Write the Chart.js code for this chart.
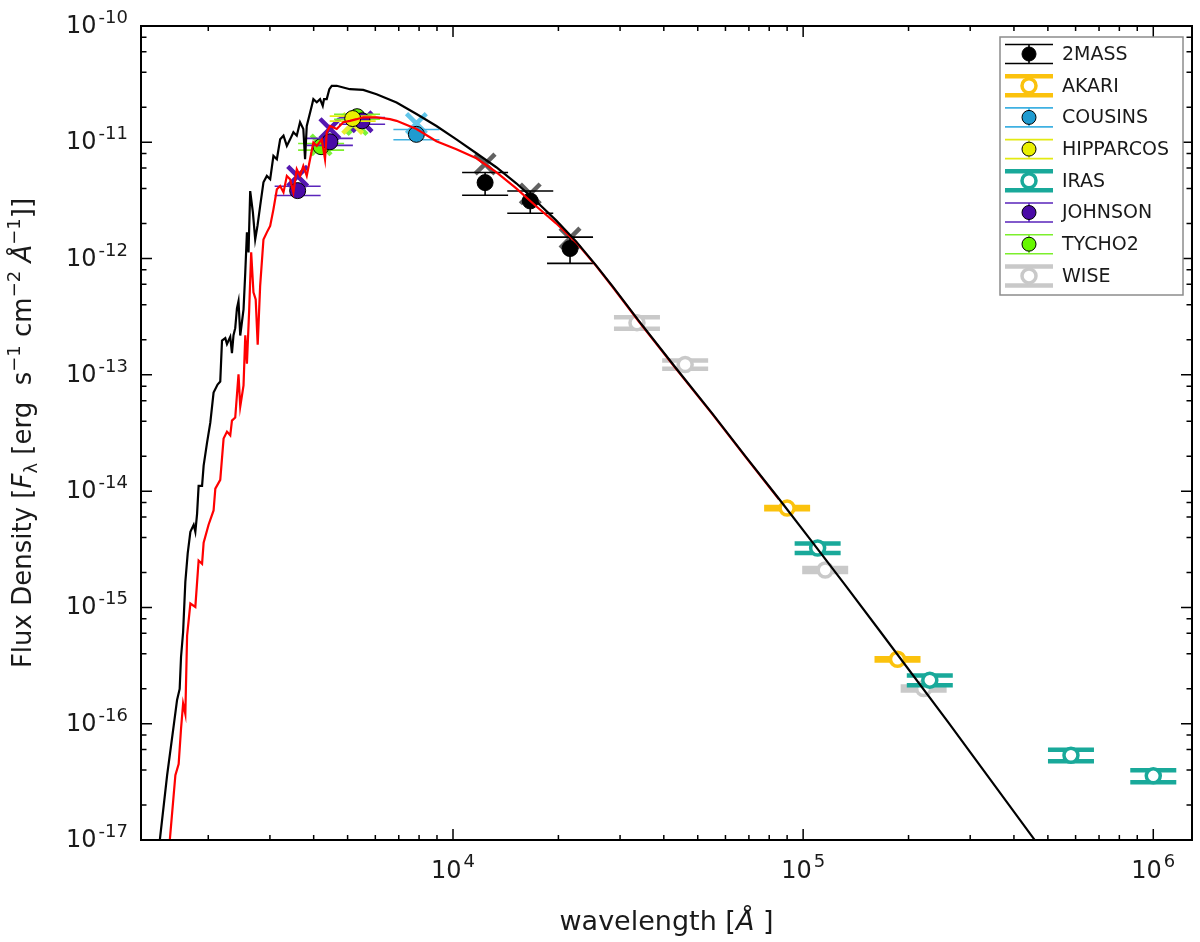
<!DOCTYPE html>
<html>
<head>
<meta charset="utf-8">
<title>Spectral energy distribution</title>
<script src="https://cdn.jsdelivr.net/npm/chart.js@4.4.1/dist/chart.umd.min.js"></script>
<style>
  html, body { margin: 0; padding: 0; background: #ffffff; }
  #wrap { width: 1200px; height: 942px; }
</style>
</head>
<body>
<div id="wrap"><canvas id="sed" width="1200" height="942"></canvas></div>
<script>
// Axis limits and ticks
const xMin = 1285, xMax = 1.29e6;
const yMin = 1e-17, yMax = 1e-10;
const xMajorTicks = [1e4, 1e5, 1e6];
const xTickExponents = ['4', '5', '6'];
const xMinorTicks = [2e3, 3e3, 4e3, 5e3, 6e3, 7e3, 8e3, 9e3,
                     2e4, 3e4, 4e4, 5e4, 6e4, 7e4, 8e4, 9e4,
                     2e5, 3e5, 4e5, 5e5, 6e5, 7e5, 8e5, 9e5];
const yMajorTicks = [1e-10, 1e-11, 1e-12, 1e-13, 1e-14, 1e-15, 1e-16, 1e-17];
const yTickExponents = ['-10', '-11', '-12', '-13', '-14', '-15', '-16', '-17'];
const yMinorTicks = [2e-11, 4e-11, 6e-11, 8e-11, 2e-12, 4e-12, 6e-12, 8e-12,
                     2e-13, 4e-13, 6e-13, 8e-13, 2e-14, 4e-14, 6e-14, 8e-14,
                     2e-15, 4e-15, 6e-15, 8e-15, 2e-16, 4e-16, 6e-16, 8e-16,
                     2e-17, 4e-17, 6e-17, 8e-17];

// Model spectrum (black)
const modelWave = [1453, 1526, 1594, 1629, 1657, 1672, 1695, 1720, 1747, 1778, 1817, 1837, 1858, 1877, 1920, 1940,
  1984, 2027, 2071, 2126, 2164, 2189, 2237, 2262, 2311, 2337, 2361, 2388, 2415, 2440, 2468, 2522, 2551, 2579,
  2606, 2635, 2682, 2723, 2764, 2813, 2875, 2940, 3005, 3070, 3140, 3209, 3280, 3353, 3426, 3501, 3579, 3657,
  3737, 3780, 3822, 3951, 3992, 4082, 4172, 4246, 4282, 4359, 4434, 4505, 4655, 4860, 5078, 5541, 6050, 6899,
  7866, 8968, 10225, 11660, 13290, 15160, 17280, 19700, 22470, 25620, 28570, 34030, 43300, 55050, 68540,
  85270, 106100, 132060, 164360, 260100, 459300];
const modelFlux = [9.75e-18, 3.61e-17, 9.72e-17, 1.60e-16, 1.99e-16, 3.75e-16, 6.15e-16, 1.66e-15, 2.91e-15,
  4.47e-15, 5.14e-15, 4.47e-15, 6.38e-15, 1.11e-14, 1.11e-14, 1.66e-14, 2.61e-14, 3.88e-14, 7.05e-14, 8.25e-14,
  8.75e-14, 1.97e-13, 2.07e-13, 1.84e-13, 2.12e-13, 1.54e-13, 2.19e-13, 2.52e-13, 3.72e-13, 4.30e-13, 2.18e-13,
  3.65e-13, 7.60e-13, 1.68e-12, 1.13e-12, 3.81e-12, 2.50e-12, 1.46e-12, 1.91e-12, 2.83e-12, 4.53e-12, 5.14e-12,
  4.81e-12, 7.64e-12, 7.15e-12, 1.06e-11, 1.14e-11, 9.31e-12, 1.06e-11, 1.22e-11, 1.14e-11, 1.49e-11, 1.30e-11,
  7.15e-12, 1.38e-11, 2.06e-11, 2.35e-11, 2.21e-11, 2.35e-11, 2.06e-11, 2.35e-11, 2.35e-11, 2.86e-11, 3.06e-11,
  3.06e-11, 2.96e-11, 2.86e-11, 2.82e-11, 2.59e-11, 2.20e-11, 1.75e-11, 1.38e-11, 1.06e-11, 8.05e-12, 6.10e-12,
  4.44e-12, 3.11e-12, 2.13e-12, 1.406e-12, 8.74e-13, 5.76e-13, 2.88e-13, 1.145e-13, 4.64e-14, 1.98e-14, 8.60e-15,
  3.66e-15, 1.547e-15, 6.46e-16, 1.022e-16, 9.94e-18];

// Reddened model spectrum (red)
const reddenedWave = [1552, 1611, 1646, 1672, 1695, 1720, 1740, 1778, 1837, 1877, 1920, 1940, 2004, 2071, 2095,
  2164, 2212, 2262, 2311, 2337, 2388, 2440, 2468, 2522, 2551, 2579, 2617, 2652, 2692, 2732, 2768, 2813, 2875,
  2940, 3005, 3070, 3140, 3209, 3280, 3353, 3426, 3501, 3579, 3657, 3737, 3822, 3906, 3992, 4082, 4219, 4310,
  4359, 4455, 4655, 4860, 5078, 5306, 5541, 6050, 6603, 6899, 7866, 8968, 10225, 11660, 13290, 15160, 17280,
  19700, 22470, 25620, 28570, 34030, 43300, 55050, 68540, 85270];
const reddenedFlux = [9.75e-18, 3.61e-17, 4.49e-17, 9.06e-17, 1.49e-16, 1.21e-16, 5.71e-16, 1.08e-15, 1.01e-15,
  2.53e-15, 2.37e-15, 3.60e-15, 5.14e-15, 6.82e-15, 1.05e-14, 1.25e-14, 2.83e-14, 3.25e-14, 3.02e-14, 4.04e-14,
  4.29e-14, 1.01e-13, 5.33e-14, 8.13e-14, 2.19e-13, 1.25e-13, 3.58e-13, 1.13e-12, 5.12e-13, 4.46e-13, 1.82e-13,
  5.79e-13, 1.46e-12, 1.68e-12, 1.91e-12, 2.65e-12, 3.94e-12, 4.21e-12, 3.71e-12, 5.14e-12, 4.81e-12, 3.71e-12,
  5.87e-12, 5.14e-12, 6.26e-12, 5.14e-12, 7.15e-12, 9.96e-12, 9.31e-12, 1.06e-11, 7.15e-12, 1.22e-11, 1.38e-11,
  1.30e-11, 1.49e-11, 1.53e-11, 1.58e-11, 1.64e-11, 1.64e-11, 1.58e-11, 1.53e-11, 1.30e-11, 1.02e-11, 8.72e-12,
  7.29e-12, 5.53e-12, 4.02e-12, 2.82e-12, 2.01e-12, 1.378e-12, 8.65e-13, 5.70e-13, 2.85e-13, 1.13e-13, 4.60e-14,
  1.96e-14, 8.52e-15];

// Photometry: wavelength [A], flux, error, synthetic model flux
const twomassWave = [12350, 16620, 21590];
const twomassFlux = [4.5e-12, 3.13e-12, 1.22e-12];
const twomassErr = [1.0e-12, 0.68e-12, 0.31e-12];
const twomassSynth = [6.5e-12, 3.6e-12, 1.5e-12];

const akariWave = [90000, 186000];
const akariFlux = [7.15e-15, 3.58e-16];
const akariErr = [0.15e-15, 0.08e-16];

const cousinsWave = [7860];
const cousinsFlux = [1.17e-11];
const cousinsErr = [0.12e-11];
const cousinsSynth = [1.45e-11];

const hipparcosWave = [5170];
const hipparcosFlux = [1.6e-11];
const hipparcosErr = [0.08e-11];
const hipparcosSynth = [1.45e-11];

const irasWave = [110000, 230000, 582000, 1000000];
const irasFlux = [3.24e-15, 2.37e-16, 5.36e-17, 3.56e-17];
const irasErr = [0.3e-15, 0.23e-16, 0.6e-17, 0.42e-17];

const johnsonWave = [3600, 4450, 5500];
const johnsonFlux = [3.84e-12, 1.01e-11, 1.53e-11];
const johnsonErr = [0.35e-12, 0.07e-11, 0.1e-11];
const johnsonSynth = [5.1e-12, 1.31e-11, 1.5e-11];

const tychoWave = [4200, 5320];
const tychoFlux = [9.17e-12, 1.66e-11];
const tychoErr = [0.6e-12, 0.08e-11];
const tychoSynth = [9.5e-12, 1.42e-11];

const wiseWave = [33526, 46028, 115608, 220883];
const wiseFlux = [2.81e-13, 1.227e-13, 2.10e-15, 2.01e-16];
const wiseErr = [0.32e-13, 0.1e-13, 0.08e-15, 0.08e-16];

// Survey styles (legend order)
const surveys = [
  { name: '2MASS', wave: twomassWave, flux: twomassFlux, err: twomassErr, synth: twomassSynth,
    color: '#000000', bar: '#000000', open: false, thick: false, cross: 'rgba(70,70,70,0.85)' },
  { name: 'AKARI', wave: akariWave, flux: akariFlux, err: akariErr, synth: null,
    color: '#fbc20d', bar: '#fbc20d', open: true, thick: true },
  { name: 'COUSINS', wave: cousinsWave, flux: cousinsFlux, err: cousinsErr, synth: cousinsSynth,
    color: '#1f9bd0', bar: '#3fb1e2', open: false, thick: false, cross: '#62c6ea' },
  { name: 'HIPPARCOS', wave: hipparcosWave, flux: hipparcosFlux, err: hipparcosErr, synth: hipparcosSynth,
    color: '#e9ef00', bar: '#e3ea12', open: false, thick: false, cross: '#e8ee30' },
  { name: 'IRAS', wave: irasWave, flux: irasFlux, err: irasErr, synth: null,
    color: '#19a99a', bar: '#19a99a', open: true, thick: true },
  { name: 'JOHNSON', wave: johnsonWave, flux: johnsonFlux, err: johnsonErr, synth: johnsonSynth,
    color: '#4a0ba6', bar: '#5a24bb', open: false, thick: false, cross: '#5518b0' },
  { name: 'TYCHO2', wave: tychoWave, flux: tychoFlux, err: tychoErr, synth: tychoSynth,
    color: '#66f700', bar: '#7cef2c', open: false, thick: false, cross: '#7cf23a' },
  { name: 'WISE', wave: wiseWave, flux: wiseFlux, err: wiseErr, synth: null,
    color: '#c9c9c9', bar: '#c9c9c9', open: true, thick: true }
];

const FONT = '"DejaVu Sans", "Liberation Sans", sans-serif';
const CAP = 23;

function toPoints(xs, ys) {
  return xs.map((x, i) => ({ x: x, y: ys[i] }));
}

// Build datasets
const datasets = [];
datasets.push({
  label: 'model', data: toPoints(modelWave, modelFlux), showLine: true,
  borderColor: '#000000', borderWidth: 2.2, pointRadius: 0, order: 0
});
datasets.push({
  label: 'reddened', data: toPoints(reddenedWave, reddenedFlux), showLine: true,
  borderColor: '#ff0000', borderWidth: 2.2, pointRadius: 0, order: 1
});
surveys.forEach(s => {
  datasets.push({
    label: s.name, data: toPoints(s.wave, s.flux), showLine: false,
    errors: s.err, barColor: s.bar, barWidth: s.thick ? 4.5 : 1.6,
    pointStyle: 'circle',
    pointRadius: s.open ? 7 : 8,
    pointBackgroundColor: s.open ? '#ffffff' : s.color,
    pointBorderColor: s.open ? s.color : '#000000',
    pointBorderWidth: s.open ? 3.5 : 1,
    order: 2
  });
  if (s.synth) {
    datasets.push({
      label: s.name + ' synthetic', data: toPoints(s.wave, s.synth), showLine: false,
      pointStyle: 'crossRot', pointRadius: 14, pointBorderWidth: 4.5,
      pointBorderColor: s.cross, pointBackgroundColor: s.cross, order: 3
    });
  }
});

function drawPower(ctx, exp, x, y, align, bigSize, smallSize, expRaise) {
  ctx.font = bigSize + 'px ' + FONT;
  const wBase = ctx.measureText('10').width;
  ctx.font = smallSize + 'px ' + FONT;
  const wExp = ctx.measureText(exp).width;
  const gap = 2;
  let left;
  if (align === 'right') left = x - wBase - gap - wExp;
  else left = x - (wBase + gap + wExp) / 2;
  ctx.textAlign = 'left';
  ctx.textBaseline = 'alphabetic';
  ctx.font = bigSize + 'px ' + FONT;
  ctx.fillText('10', left, y);
  ctx.font = smallSize + 'px ' + FONT;
  ctx.fillText(exp, left + wBase + gap, y - expRaise);
}

// Pieces of the y-axis title: [text, style] where style is n (normal), i (italic), sub, sup
const yTitleParts = [
  ['Flux Density [', 'n'], ['F', 'i'], ['\u03bb', 'sub'], [' [erg  s', 'n'], ['\u22121', 'sup'],
  [' cm', 'n'], ['\u22122', 'sup'], [' ', 'n'], ['\u00c5', 'i'], ['\u22121', 'sup'], [']]', 'n']
];
const xTitleParts = [['wavelength [', 'n'], ['\u00c5', 'i'], [' ]', 'n']];

function partFont(style, size) {
  if (style === 'i') return 'italic ' + size + 'px ' + FONT;
  if (style === 'sub' || style === 'sup') return Math.round(size * 0.7) + 'px ' + FONT;
  return size + 'px ' + FONT;
}

function drawParts(ctx, parts, cx, baseY, size) {
  let total = 0;
  parts.forEach(p => { ctx.font = partFont(p[1], size); total += ctx.measureText(p[0]).width; });
  let x = cx - total / 2;
  ctx.textAlign = 'left';
  ctx.textBaseline = 'alphabetic';
  parts.forEach(p => {
    ctx.font = partFont(p[1], size);
    let dy = 0;
    if (p[1] === 'sub') dy = size * 0.22;
    if (p[1] === 'sup') dy = -size * 0.42;
    ctx.fillText(p[0], x, baseY + dy);
    x += ctx.measureText(p[0]).width;
  });
}

function drawErrorGlyph(ctx, s, cx, cy, capHalf, halfH, radius) {
  ctx.save();
  ctx.strokeStyle = s.bar;
  ctx.lineWidth = s.thick ? 4.5 : 1.6;
  ctx.beginPath();
  ctx.moveTo(cx, cy - halfH); ctx.lineTo(cx, cy + halfH);
  ctx.moveTo(cx - capHalf, cy - halfH); ctx.lineTo(cx + capHalf, cy - halfH);
  ctx.moveTo(cx - capHalf, cy + halfH); ctx.lineTo(cx + capHalf, cy + halfH);
  ctx.stroke();
  ctx.beginPath();
  ctx.arc(cx, cy, radius, 0, Math.PI * 2);
  ctx.fillStyle = s.open ? '#ffffff' : s.color;
  ctx.fill();
  ctx.lineWidth = s.open ? 3.5 : 1;
  ctx.strokeStyle = s.open ? s.color : '#000000';
  ctx.stroke();
  ctx.restore();
}

const sedDecor = {
  id: 'sedDecor',
  beforeDatasetDraw(chart, args) {
    const ds = chart.data.datasets[args.index];
    if (!ds.errors) return;
    const ctx = chart.ctx, a = chart.chartArea;
    const xs = chart.scales.x, ys = chart.scales.y;
    ctx.save();
    ctx.beginPath();
    ctx.rect(a.left, a.top, a.right - a.left, a.bottom - a.top);
    ctx.clip();
    ctx.strokeStyle = ds.barColor;
    ctx.lineWidth = ds.barWidth;
    ds.data.forEach((p, i) => {
      const e = ds.errors[i];
      const px = xs.getPixelForValue(p.x);
      const top = ys.getPixelForValue(p.y + e);
      const bot = ys.getPixelForValue(p.y - e);
      ctx.beginPath();
      ctx.moveTo(px, top); ctx.lineTo(px, bot);
      ctx.moveTo(px - CAP, top); ctx.lineTo(px + CAP, top);
      ctx.moveTo(px - CAP, bot); ctx.lineTo(px + CAP, bot);
      ctx.stroke();
    });
    ctx.restore();
  },
  afterDraw(chart) {
    const ctx = chart.ctx, a = chart.chartArea;
    const xs = chart.scales.x, ys = chart.scales.y;
    ctx.save();
    ctx.fillStyle = '#000000';
    ctx.strokeStyle = '#000000';

    // Inward ticks on all four sides
    ctx.lineWidth = 1.5;
    ctx.beginPath();
    const xTick = (v, len) => {
      const px = xs.getPixelForValue(v);
      ctx.moveTo(px, a.bottom); ctx.lineTo(px, a.bottom - len);
      ctx.moveTo(px, a.top); ctx.lineTo(px, a.top + len);
    };
    const yTick = (v, len) => {
      const py = ys.getPixelForValue(v);
      ctx.moveTo(a.left, py); ctx.lineTo(a.left + len, py);
      ctx.moveTo(a.right, py); ctx.lineTo(a.right - len, py);
    };
    xMajorTicks.forEach(v => xTick(v, 11));
    xMinorTicks.forEach(v => xTick(v, 5));
    yMajorTicks.forEach(v => yTick(v, 11));
    yMinorTicks.forEach(v => yTick(v, 5.5));
    ctx.stroke();

    // Frame
    ctx.lineWidth = 2;
    ctx.strokeRect(a.left, a.top, a.right - a.left, a.bottom - a.top);

    // Tick labels
    ctx.fillStyle = '#1a1a1a';
    xMajorTicks.forEach((v, i) => {
      drawPower(ctx, xTickExponents[i], xs.getPixelForValue(v), 878, 'center', 24, 18, 11);
    });
    yMajorTicks.forEach((v, i) => {
      drawPower(ctx, yTickExponents[i], 128, ys.getPixelForValue(v) + 7, 'right', 24, 18, 10);
    });

    // Axis titles
    drawParts(ctx, xTitleParts, (a.left + a.right) / 2, 930, 27);
    ctx.save();
    ctx.translate(31, (a.top + a.bottom) / 2);
    ctx.rotate(-Math.PI / 2);
    drawParts(ctx, yTitleParts, 0, 0, 26);
    ctx.restore();

    // Legend
    const lx = 1000, ly = 37, lw = 183, lh = 258;
    ctx.fillStyle = '#ffffff';
    ctx.fillRect(lx, ly, lw, lh);
    ctx.lineWidth = 1.5;
    ctx.strokeStyle = '#8c8c8c';
    ctx.strokeRect(lx, ly, lw, lh);
    surveys.forEach((s, i) => {
      const cy = 54 + i * 31.7;
      drawErrorGlyph(ctx, s, 1029, cy, 24, 9.5, 7);
      ctx.fillStyle = '#1a1a1a';
      ctx.font = '19px ' + FONT;
      ctx.textAlign = 'left';
      ctx.textBaseline = 'middle';
      ctx.fillText(s.name, 1062, cy + 1);
    });
    ctx.restore();
  }
};

new Chart(document.getElementById('sed'), {
  type: 'scatter',
  data: { datasets: datasets },
  options: {
    responsive: false,
    devicePixelRatio: 1,
    animation: false,
    layout: { autoPadding: false, padding: { left: 141, right: 8, top: 26, bottom: 102 } },
    plugins: { legend: { display: false }, tooltip: { enabled: false } },
    elements: { line: { tension: 0 } },
    scales: {
      x: { type: 'logarithmic', min: xMin, max: xMax, display: false },
      y: { type: 'logarithmic', min: yMin, max: yMax, display: false }
    }
  },
  plugins: [sedDecor]
});
</script>
</body>
</html>
